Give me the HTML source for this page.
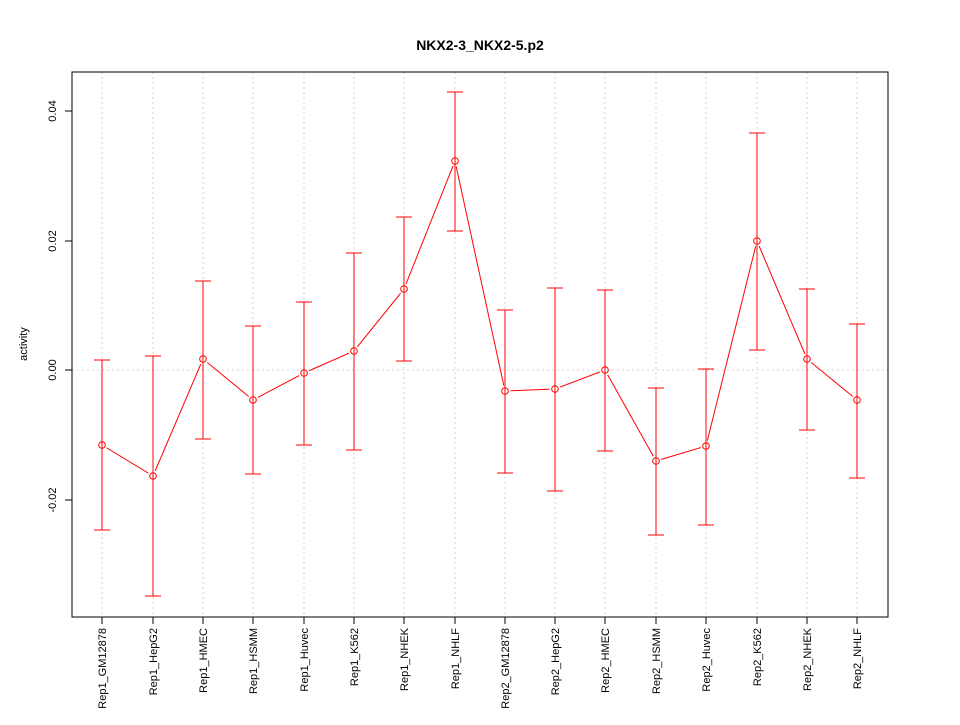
<!DOCTYPE html>
<html><head><meta charset="utf-8"><style>html,body{margin:0;padding:0;background:#fff}</style></head><body>
<svg width="960" height="720" xmlns="http://www.w3.org/2000/svg" font-family="Liberation Sans, sans-serif">
<rect width="960" height="720" fill="#fff"/>
<text x="480" y="50" text-anchor="middle" font-weight="bold" font-size="14">NKX2-3_NKX2-5.p2</text>
<g stroke="#d3d3d3" stroke-dasharray="2,3" stroke-width="1">
<line x1="102" y1="72" x2="102" y2="617"/><line x1="153" y1="72" x2="153" y2="617"/><line x1="203" y1="72" x2="203" y2="617"/><line x1="253" y1="72" x2="253" y2="617"/><line x1="304" y1="72" x2="304" y2="617"/><line x1="354" y1="72" x2="354" y2="617"/><line x1="404" y1="72" x2="404" y2="617"/><line x1="455" y1="72" x2="455" y2="617"/><line x1="505" y1="72" x2="505" y2="617"/><line x1="555" y1="72" x2="555" y2="617"/><line x1="605" y1="72" x2="605" y2="617"/><line x1="656" y1="72" x2="656" y2="617"/><line x1="706" y1="72" x2="706" y2="617"/><line x1="757" y1="72" x2="757" y2="617"/><line x1="807" y1="72" x2="807" y2="617"/><line x1="857" y1="72" x2="857" y2="617"/>
<line x1="72" y1="370" x2="888" y2="370"/>
</g>
<polyline points="102,445 153,476 203,359 253,400 304,373 354,351 404,289 455,161 505,391 555,389 605,370 656,461 706,446 757,241 807,359 857,400" fill="none" stroke="#f00"/>
<g fill="#fff">
<circle cx="102" cy="445" r="5.5"/><circle cx="153" cy="476" r="5.5"/><circle cx="203" cy="359" r="5.5"/><circle cx="253" cy="400" r="5.5"/><circle cx="304" cy="373" r="5.5"/><circle cx="354" cy="351" r="5.5"/><circle cx="404" cy="289" r="5.5"/><circle cx="455" cy="161" r="5.5"/><circle cx="505" cy="391" r="5.5"/><circle cx="555" cy="389" r="5.5"/><circle cx="605" cy="370" r="5.5"/><circle cx="656" cy="461" r="5.5"/><circle cx="706" cy="446" r="5.5"/><circle cx="757" cy="241" r="5.5"/><circle cx="807" cy="359" r="5.5"/><circle cx="857" cy="400" r="5.5"/>
</g>
<g stroke="#f00" fill="none">
<path d="M102 360V530M94 360H110M94 530H110"/>
<path d="M153 356V596M145 356H161M145 596H161"/>
<path d="M203 281V439M195 281H211M195 439H211"/>
<path d="M253 326V474M245 326H261M245 474H261"/>
<path d="M304 302V445M296 302H312M296 445H312"/>
<path d="M354 253V450M346 253H362M346 450H362"/>
<path d="M404 217V361M396 217H412M396 361H412"/>
<path d="M455 92V231M447 92H463M447 231H463"/>
<path d="M505 310V473M497 310H513M497 473H513"/>
<path d="M555 288V491M547 288H563M547 491H563"/>
<path d="M605 290V451M597 290H613M597 451H613"/>
<path d="M656 388V535M648 388H664M648 535H664"/>
<path d="M706 369V525M698 369H714M698 525H714"/>
<path d="M757 133V350M749 133H765M749 350H765"/>
<path d="M807 289V430M799 289H815M799 430H815"/>
<path d="M857 324V478M849 324H865M849 478H865"/>
<circle cx="102" cy="445" r="3.3"/><circle cx="153" cy="476" r="3.3"/><circle cx="203" cy="359" r="3.3"/><circle cx="253" cy="400" r="3.3"/><circle cx="304" cy="373" r="3.3"/><circle cx="354" cy="351" r="3.3"/><circle cx="404" cy="289" r="3.3"/><circle cx="455" cy="161" r="3.3"/><circle cx="505" cy="391" r="3.3"/><circle cx="555" cy="389" r="3.3"/><circle cx="605" cy="370" r="3.3"/><circle cx="656" cy="461" r="3.3"/><circle cx="706" cy="446" r="3.3"/><circle cx="757" cy="241" r="3.3"/><circle cx="807" cy="359" r="3.3"/><circle cx="857" cy="400" r="3.3"/>
</g>
<rect x="72" y="72" width="816" height="545" fill="none" stroke="#000"/>
<path stroke="#000" fill="none" d="M102 617V624M153 617V624M203 617V624M253 617V624M304 617V624M354 617V624M404 617V624M455 617V624M505 617V624M555 617V624M605 617V624M656 617V624M706 617V624M757 617V624M807 617V624M857 617V624M65 111H72M65 241H72M65 370H72M65 500H72"/>
<g font-size="11" text-anchor="end">
<text transform="translate(106,628) rotate(-90)">Rep1_GM12878</text>
<text transform="translate(157,628) rotate(-90)">Rep1_HepG2</text>
<text transform="translate(207,628) rotate(-90)">Rep1_HMEC</text>
<text transform="translate(257,628) rotate(-90)">Rep1_HSMM</text>
<text transform="translate(308,628) rotate(-90)">Rep1_Huvec</text>
<text transform="translate(358,628) rotate(-90)">Rep1_K562</text>
<text transform="translate(408,628) rotate(-90)">Rep1_NHEK</text>
<text transform="translate(459,628) rotate(-90)">Rep1_NHLF</text>
<text transform="translate(509,628) rotate(-90)">Rep2_GM12878</text>
<text transform="translate(559,628) rotate(-90)">Rep2_HepG2</text>
<text transform="translate(609,628) rotate(-90)">Rep2_HMEC</text>
<text transform="translate(660,628) rotate(-90)">Rep2_HSMM</text>
<text transform="translate(710,628) rotate(-90)">Rep2_Huvec</text>
<text transform="translate(761,628) rotate(-90)">Rep2_K562</text>
<text transform="translate(811,628) rotate(-90)">Rep2_NHEK</text>
<text transform="translate(861,628) rotate(-90)">Rep2_NHLF</text>
</g>
<g font-size="11" text-anchor="middle">
<text transform="translate(56,111) rotate(-90)">0.04</text>
<text transform="translate(56,241) rotate(-90)">0.02</text>
<text transform="translate(56,370) rotate(-90)">0.00</text>
<text transform="translate(56,500) rotate(-90)">-0.02</text>
</g>
<text transform="translate(27,344) rotate(-90)" text-anchor="middle" font-size="11">activity</text>
</svg>
</body></html>
